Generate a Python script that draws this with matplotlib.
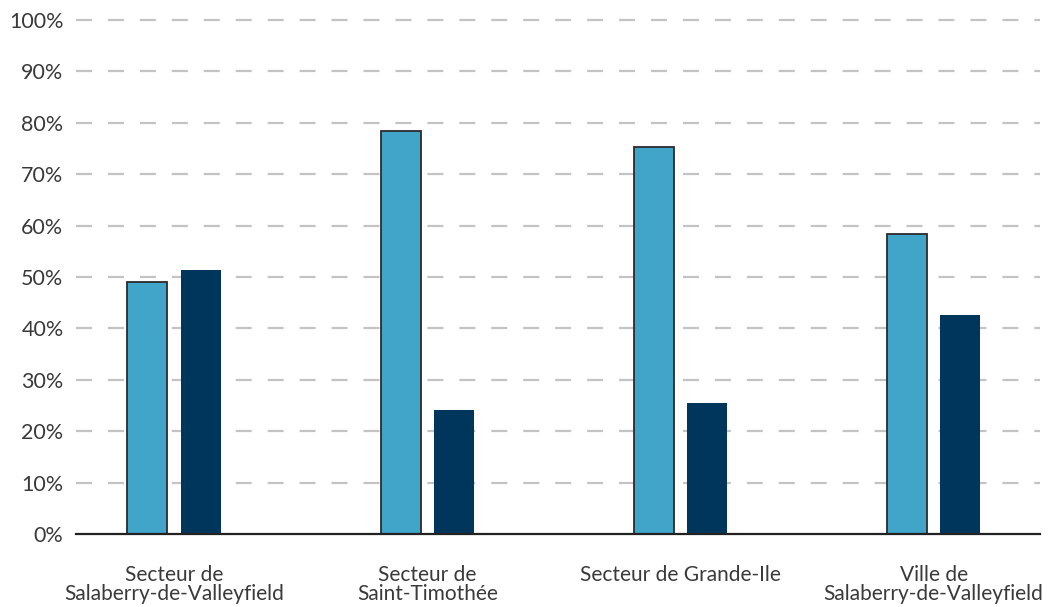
import numpy as np
import matplotlib
matplotlib.use("Agg")
import matplotlib.pyplot as plt

plt.rcParams['font.family'] = ['Lato', 'DejaVu Sans']
plt.rcParams['lines.scale_dashes'] = False

categories = ["Secteur de\nSalaberry-de-Valleyfield", "Secteur de\nSaint-Timothée",
              "Secteur de Grande-Ile", "Ville de\nSalaberry-de-Valleyfield"]
serie_claire = [49.1, 78.4, 75.3, 58.4]
serie_foncee = [51.4, 24.2, 25.4, 42.6]
yticks = np.arange(0, 101, 10)

fig = plt.figure(figsize=(10.49, 6.07), dpi=100)
ax = fig.add_axes([76/1049, 73/607, (1040-76)/1049, (534-20)/607])

x = np.arange(len(categories))
w = 0.158
ax.bar(x - 0.105, serie_claire, w, color='#41A5C9', edgecolor='#2b2b2b', linewidth=1.3, zorder=3)
ax.bar(x + 0.105, serie_foncee, w, color='#00365C', linewidth=0, zorder=3)

ax.set_ylim(0, 100)
ax.set_xlim(-0.387, 3.42)
ax.set_yticks(yticks)
ax.set_yticklabels([f"{v}%" for v in yticks], fontsize=15.5)
ax.set_xticks(x)
ax.set_xticklabels(categories, va='top', linespacing=0.98, fontsize=15)

for v in yticks[1:]:
    ax.axhline(v, color='#c3c3c3', linewidth=1.6, dashes=(11.5, 11.5), zorder=1, clip_on=False)

for s in ['top', 'right', 'left']:
    ax.spines[s].set_visible(False)
ax.spines['bottom'].set_color('#222222')
ax.spines['bottom'].set_linewidth(1.6)
ax.spines['bottom'].set_zorder(4)
ax.tick_params(axis='both', length=0, labelcolor='#3a3a3a')
ax.tick_params(axis='y', pad=9)
ax.tick_params(axis='x', pad=22)

fig.savefig("out.png", dpi=100)
